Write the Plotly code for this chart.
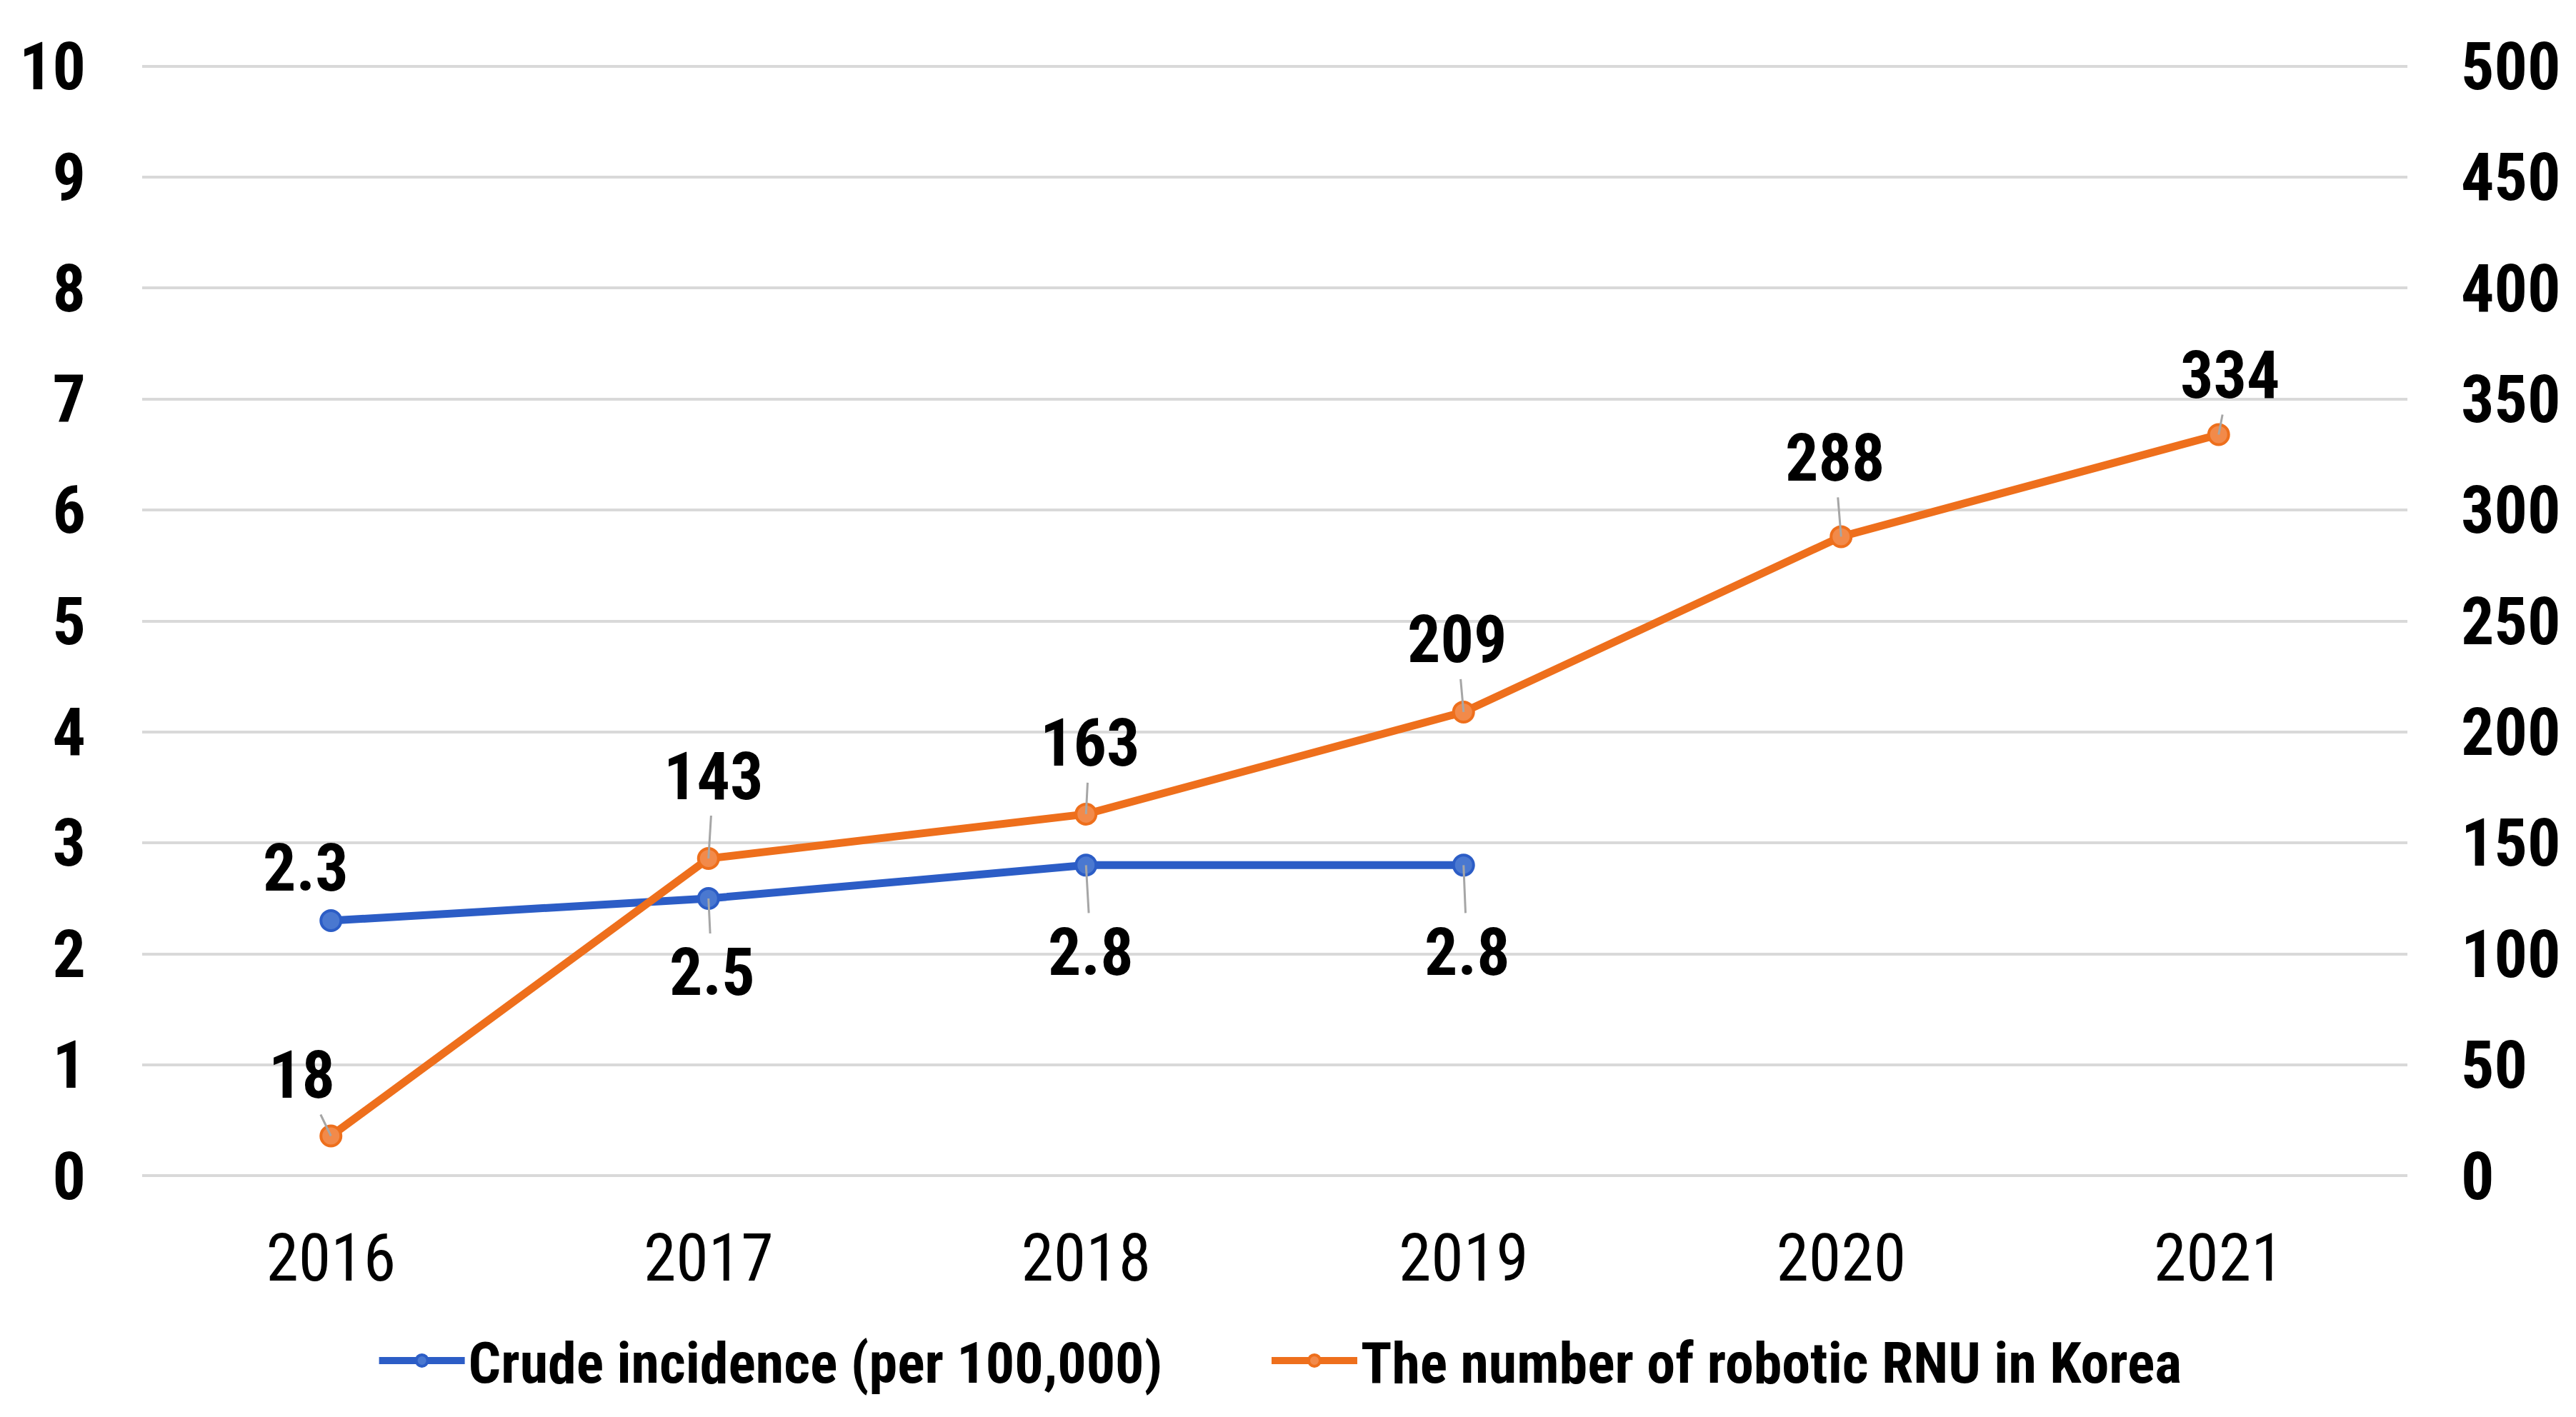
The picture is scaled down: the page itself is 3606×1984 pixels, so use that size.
import plotly.graph_objects as go
from plotly.subplots import make_subplots

# ---- data ----
years = [2016, 2017, 2018, 2019, 2020, 2021]
crude_years = [2016, 2017, 2018, 2019]
crude_incidence = [2.3, 2.5, 2.8, 2.8]
robotic_rnu = [18, 143, 163, 209, 288, 334]
left_ticks = list(range(0, 11))
right_ticks = list(range(0, 501, 50))
name_crude = "Crude incidence (per 100,000)"
name_rnu = "The number of robotic RNU in Korea"

# ---- style ----
BLUE = "#2C5DC6"
BLUE_FILL = "#4A78D0"
ORANGE = "#EE6F1C"
ORANGE_FILL = "#F28A4A"
GRID = "#D9D9D9"
LEADER = "#A6A6A6"
NARROW = "Liberation Sans Narrow, Arial Narrow, Roboto Condensed, DejaVu Sans Condensed, sans-serif"
TICK_SIZE = 92
# label offsets (pixels) relative to their points; flag = draw leader line
crude_offsets = [(-35, -74, False), (5, 104, True), (7, 122, True), (5, 122, True)]
rnu_offsets = [(-41, -85, True), (7, -115, True), (5, -99, True), (-9, -101, True), (-9, -110, True), (16, -83, True)]

fig = make_subplots(specs=[[{"secondary_y": True}]])

fig.add_trace(go.Scatter(
    x=crude_years, y=crude_incidence, name=name_crude, mode="lines+markers",
    line=dict(color=BLUE, width=11),
    marker=dict(size=28, color=BLUE_FILL, line=dict(color=BLUE, width=4)),
    legend="legend",
), secondary_y=False)

fig.add_trace(go.Scatter(
    x=years, y=robotic_rnu, name=name_rnu, mode="lines+markers",
    line=dict(color=ORANGE, width=11),
    marker=dict(size=28, color=ORANGE_FILL, line=dict(color=ORANGE, width=4)),
    legend="legend2",
), secondary_y=True)

label_font = dict(family=NARROW, size=TICK_SIZE, color="#000000", weight="bold")
annotations = []
for xv, yv, (ax, ay, arrow) in zip(crude_years, crude_incidence, crude_offsets):
    if arrow:
        annotations.append(dict(
            x=xv, y=yv, xref="x", yref="y", text=f"{yv:.1f}",
            showarrow=True, arrowhead=0, arrowwidth=3, arrowcolor=LEADER,
            ax=ax, ay=ay, standoff=0, font=label_font,
        ))
    else:
        annotations.append(dict(
            x=xv, y=yv, xref="x", yref="y", text=f"{yv:.1f}",
            showarrow=False, xshift=ax, yshift=-ay, font=label_font,
        ))
for xv, yv, (ax, ay, arrow) in zip(years, robotic_rnu, rnu_offsets):
    annotations.append(dict(
        x=xv, y=yv, xref="x", yref="y2", text=f"{yv}",
        showarrow=True, arrowhead=0, arrowwidth=3, arrowcolor=LEADER,
        ax=ax, ay=ay, standoff=0, font=label_font,
    ))

legend_font = dict(family=NARROW, size=80, color="#000000", weight="bold")
fig.update_layout(
    width=3606, height=1984,
    margin=dict(l=191, r=244, t=83, b=344, autoexpand=False),
    paper_bgcolor="white", plot_bgcolor="white",
    showlegend=True,
    legend=dict(
        orientation="h", x=0.103, xanchor="left", y=-0.165, yanchor="middle",
        font=legend_font, itemwidth=120,
    ),
    legend2=dict(
        orientation="h", x=0.497, xanchor="left", y=-0.165, yanchor="middle",
        font=legend_font, itemwidth=120,
    ),
    annotations=annotations,
)

fig.update_xaxes(
    domain=[0, 1],
    range=[2015.5, 2021.5], tickvals=years, ticktext=[str(y) for y in years],
    showgrid=False, zeroline=False, showline=False, automargin=False,
    tickfont=dict(family=NARROW, size=TICK_SIZE, color="#000000"),
    ticks="", ticklabelstandoff=52,
)
fig.update_yaxes(
    range=[-0.01, 10.01], tickvals=left_ticks, showgrid=True, gridcolor=GRID, gridwidth=4,
    zeroline=False, showline=False, ticks="", automargin=False,
    tickfont=dict(family=NARROW, size=TICK_SIZE, color="#000000", weight="bold"),
    ticklabelstandoff=78, secondary_y=False,
)
fig.update_yaxes(
    range=[-0.5, 500.5], tickvals=right_ticks, showgrid=False,
    zeroline=False, showline=False, ticks="", automargin=False,
    tickfont=dict(family=NARROW, size=TICK_SIZE, color="#000000", weight="bold"),
    ticklabelstandoff=74, secondary_y=True,
)

fig.write_html("out.html")
